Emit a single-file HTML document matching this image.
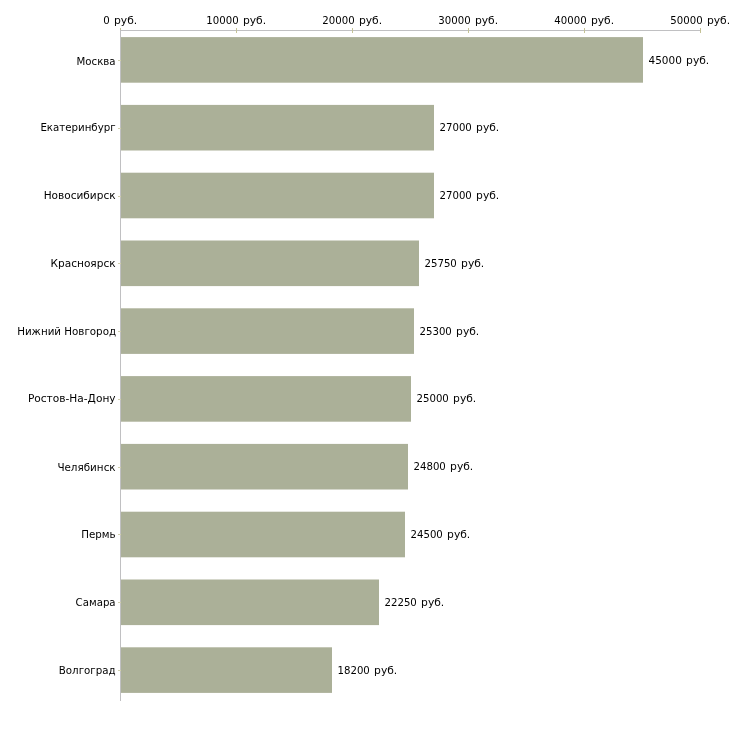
<!DOCTYPE html>
<html lang="ru">
<head>
<meta charset="utf-8">
<title>Зарплата по городам</title>
<style>
html,body{margin:0;padding:0;background:#fff;}
body{width:730px;height:730px;overflow:hidden;}
svg{display:block;}
text{font-family:"DejaVu Sans","Liberation Sans",sans-serif;font-size:11px;fill:#000;}
.v{word-spacing:0.8px;}
.b{fill:#abb098;}
.ax{fill:#c0c0c2;shape-rendering:crispEdges;}
.tk{fill:#c4c296;shape-rendering:crispEdges;}
.tl{fill:#d2d0ae;}
</style>
</head>
<body>
<svg width="730" height="730" viewBox="0 0 730 730">
<rect x="0" y="0" width="730" height="730" fill="#ffffff"/>
<rect class="b" x="121" y="37.1" width="522" height="45.6"/>
<rect class="b" x="121" y="104.9" width="313" height="45.6"/>
<rect class="b" x="121" y="172.7" width="313" height="45.6"/>
<rect class="b" x="121" y="240.5" width="298" height="45.6"/>
<rect class="b" x="121" y="308.3" width="293" height="45.6"/>
<rect class="b" x="121" y="376.1" width="290" height="45.6"/>
<rect class="b" x="121" y="443.9" width="287" height="45.6"/>
<rect class="b" x="121" y="511.7" width="284" height="45.6"/>
<rect class="b" x="121" y="579.5" width="258" height="45.6"/>
<rect class="b" x="121" y="647.3" width="211" height="45.6"/>
<rect class="ax" x="120" y="30" width="581" height="1"/>
<rect class="tk" x="120" y="28" width="1" height="5"/>
<text class="v" x="103.2" y="24"><tspan textLength="6.5" lengthAdjust="spacingAndGlyphs">0</tspan> <tspan textLength="23.2" lengthAdjust="spacingAndGlyphs">руб.</tspan></text>
<rect class="tk" x="236" y="28" width="1" height="5"/>
<text class="v" x="206.3" y="24"><tspan textLength="32.3" lengthAdjust="spacingAndGlyphs">10000</tspan> <tspan textLength="23.2" lengthAdjust="spacingAndGlyphs">руб.</tspan></text>
<rect class="tk" x="352" y="28" width="1" height="5"/>
<text class="v" x="322.3" y="24"><tspan textLength="32.3" lengthAdjust="spacingAndGlyphs">20000</tspan> <tspan textLength="23.2" lengthAdjust="spacingAndGlyphs">руб.</tspan></text>
<rect class="tk" x="468" y="28" width="1" height="5"/>
<text class="v" x="438.3" y="24"><tspan textLength="32.3" lengthAdjust="spacingAndGlyphs">30000</tspan> <tspan textLength="23.2" lengthAdjust="spacingAndGlyphs">руб.</tspan></text>
<rect class="tk" x="584" y="28" width="1" height="5"/>
<text class="v" x="554.3" y="24"><tspan textLength="32.3" lengthAdjust="spacingAndGlyphs">40000</tspan> <tspan textLength="23.2" lengthAdjust="spacingAndGlyphs">руб.</tspan></text>
<rect class="tk" x="700" y="28" width="1" height="5"/>
<text class="v" x="670.3" y="24"><tspan textLength="32.3" lengthAdjust="spacingAndGlyphs">50000</tspan> <tspan textLength="23.2" lengthAdjust="spacingAndGlyphs">руб.</tspan></text>
<rect class="ax" x="120" y="30" width="1" height="671"/>
<rect class="tk tl" x="118" y="60" width="3" height="1"/>
<text x="115.6" y="65.0" text-anchor="end" textLength="39.1" lengthAdjust="spacingAndGlyphs">Москва</text>
<text class="v" x="648.5" y="64.0"><tspan textLength="33.3" lengthAdjust="spacingAndGlyphs">45000</tspan> <tspan textLength="23.2" lengthAdjust="spacingAndGlyphs">руб.</tspan></text>
<rect class="tk tl" x="118" y="128" width="3" height="1"/>
<text x="115.6" y="131.0" text-anchor="end" textLength="75.2" lengthAdjust="spacingAndGlyphs">Екатеринбург</text>
<text class="v" x="439.5" y="131.0"><tspan textLength="32.3" lengthAdjust="spacingAndGlyphs">27000</tspan> <tspan textLength="23.2" lengthAdjust="spacingAndGlyphs">руб.</tspan></text>
<rect class="tk tl" x="118" y="196" width="3" height="1"/>
<text x="115.6" y="199.0" text-anchor="end" textLength="71.9" lengthAdjust="spacingAndGlyphs">Новосибирск</text>
<text class="v" x="439.5" y="199.0"><tspan textLength="32.3" lengthAdjust="spacingAndGlyphs">27000</tspan> <tspan textLength="23.2" lengthAdjust="spacingAndGlyphs">руб.</tspan></text>
<rect class="tk tl" x="118" y="263" width="3" height="1"/>
<text x="115.6" y="267.0" text-anchor="end" textLength="65.1" lengthAdjust="spacingAndGlyphs">Красноярск</text>
<text class="v" x="424.5" y="267.0"><tspan textLength="32.3" lengthAdjust="spacingAndGlyphs">25750</tspan> <tspan textLength="23.2" lengthAdjust="spacingAndGlyphs">руб.</tspan></text>
<rect class="tk tl" x="118" y="331" width="3" height="1"/>
<text x="116.1" y="334.7" text-anchor="end" textLength="98.9" lengthAdjust="spacingAndGlyphs">Нижний Новгород</text>
<text class="v" x="419.5" y="335.0"><tspan textLength="32.3" lengthAdjust="spacingAndGlyphs">25300</tspan> <tspan textLength="23.2" lengthAdjust="spacingAndGlyphs">руб.</tspan></text>
<rect class="tk tl" x="118" y="399" width="3" height="1"/>
<text x="115.6" y="402.0" text-anchor="end" textLength="87.7" lengthAdjust="spacingAndGlyphs">Ростов-На-Дону</text>
<text class="v" x="416.5" y="402.0"><tspan textLength="32.3" lengthAdjust="spacingAndGlyphs">25000</tspan> <tspan textLength="23.2" lengthAdjust="spacingAndGlyphs">руб.</tspan></text>
<rect class="tk tl" x="118" y="467" width="3" height="1"/>
<text x="115.6" y="470.5" text-anchor="end" textLength="58.2" lengthAdjust="spacingAndGlyphs">Челябинск</text>
<text class="v" x="413.5" y="470.3"><tspan textLength="32.3" lengthAdjust="spacingAndGlyphs">24800</tspan> <tspan textLength="23.2" lengthAdjust="spacingAndGlyphs">руб.</tspan></text>
<rect class="tk tl" x="118" y="534" width="3" height="1"/>
<text x="115.6" y="538.0" text-anchor="end" textLength="34.4" lengthAdjust="spacingAndGlyphs">Пермь</text>
<text class="v" x="410.5" y="538.0"><tspan textLength="32.3" lengthAdjust="spacingAndGlyphs">24500</tspan> <tspan textLength="23.2" lengthAdjust="spacingAndGlyphs">руб.</tspan></text>
<rect class="tk tl" x="118" y="602" width="3" height="1"/>
<text x="115.6" y="606.0" text-anchor="end" textLength="40.0" lengthAdjust="spacingAndGlyphs">Самара</text>
<text class="v" x="384.5" y="606.2"><tspan textLength="32.3" lengthAdjust="spacingAndGlyphs">22250</tspan> <tspan textLength="23.2" lengthAdjust="spacingAndGlyphs">руб.</tspan></text>
<rect class="tk tl" x="118" y="670" width="3" height="1"/>
<text x="115.6" y="674.2" text-anchor="end" textLength="56.8" lengthAdjust="spacingAndGlyphs">Волгоград</text>
<text class="v" x="337.5" y="674.2"><tspan textLength="32.3" lengthAdjust="spacingAndGlyphs">18200</tspan> <tspan textLength="23.2" lengthAdjust="spacingAndGlyphs">руб.</tspan></text>
</svg>
</body>
</html>
